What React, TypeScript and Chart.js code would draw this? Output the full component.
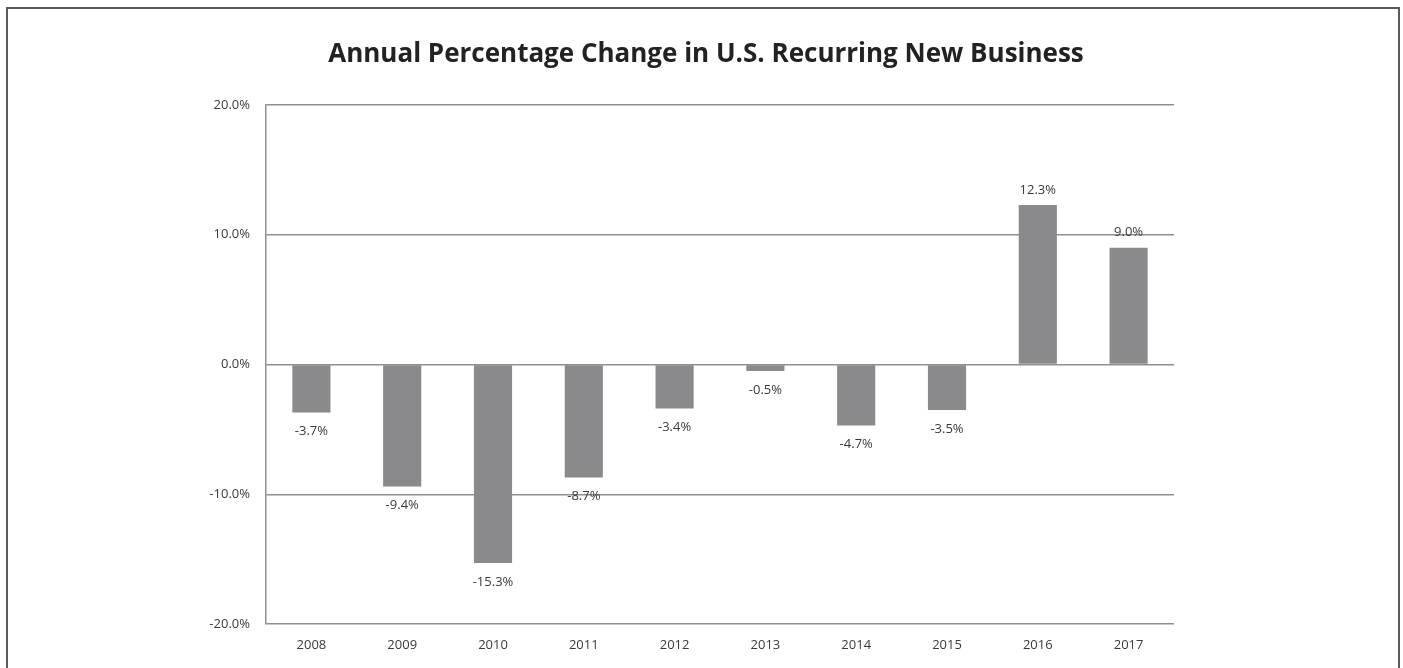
import React, { useEffect, useRef } from "react";
import { Chart, registerables } from "chart.js";

Chart.register(...registerables);

const years = ["2008", "2009", "2010", "2011", "2012", "2013", "2014", "2015", "2016", "2017"];
const changes = [-3.7, -9.4, -15.3, -8.7, -3.4, -0.5, -4.7, -3.5, 12.3, 9.0];
const yTicks = [-20, -10, 0, 10, 20];
const titleText = "Annual Percentage Change in U.S. Recurring New Business";

const frame = {
  id: "frame",
  beforeDraw(chart: any) {
    const ctx = chart.ctx;
    ctx.save();
    ctx.fillStyle = "#ffffff";
    ctx.fillRect(0, 0, chart.width, chart.height);
    ctx.strokeStyle = "#5a5a5a";
    ctx.lineWidth = 2;
    ctx.strokeRect(7, 8, 1392, 700);
    ctx.fillStyle = "#222222";
    ctx.font = "bold 26px 'Open Sans'";
    ctx.textAlign = "center";
    ctx.textBaseline = "middle";
    ctx.fillText(titleText, 706, 55);
    ctx.restore();
  },
};

const valueLabels = {
  id: "valueLabels",
  afterDatasetsDraw(chart: any) {
    const ctx = chart.ctx;
    const meta = chart.getDatasetMeta(0);
    ctx.save();
    ctx.font = "13px 'Open Sans'";
    ctx.fillStyle = "#3a3a3a";
    ctx.textAlign = "center";
    ctx.textBaseline = "middle";
    meta.data.forEach((bar: any, i: number) => {
      const v = changes[i];
      const y = v >= 0 ? bar.y - 15 : bar.y + 19;
      ctx.fillText(v.toFixed(1) + "%", bar.x, y);
    });
    ctx.restore();
  },
};

export default function App() {
  const ref = useRef<HTMLCanvasElement>(null);
  useEffect(() => {
    document.body.style.margin = "0";
    const chart = new Chart(ref.current!, {
      type: "bar",
      data: {
        labels: years,
        datasets: [
          {
            data: changes,
            backgroundColor: "#8a8a8c",
            categoryPercentage: 0.84,
            barPercentage: 0.5,
          },
        ],
      },
      options: {
        animation: false,
        responsive: false,
        layout: { padding: { left: 0, right: 229, top: 105, bottom: 0 } },
        plugins: {
          legend: { display: false },
          tooltip: { enabled: false },
          title: { display: false },
        },
        scales: {
          x: {
            grid: { display: false, drawTicks: false },
            border: { display: false },
            ticks: { color: "#3a3a3a", font: { family: "'Open Sans'", size: 13 }, padding: 13 },
            afterFit: (s: any) => {
              s.height = 44;
            },
          },
          y: {
            min: -20,
            max: 20,
            afterBuildTicks: (s: any) => {
              s.ticks = yTicks.map((v) => ({ value: v }));
            },
            grid: { color: "#8f8f8f", lineWidth: 1.5, drawTicks: false },
            border: { display: true, color: "#8f8f8f", width: 1.5 },
            ticks: {
              color: "#3a3a3a",
              font: { family: "'Open Sans'", size: 13 },
              padding: 16,
              callback: (v: any) => Number(v).toFixed(1) + "%",
            },
            afterFit: (s: any) => {
              s.width = 266;
            },
          },
        },
      },
      plugins: [frame, valueLabels],
    });
    return () => chart.destroy();
  }, []);
  return <canvas ref={ref} width={1403} height={668} style={{ display: "block" }} />;
}
